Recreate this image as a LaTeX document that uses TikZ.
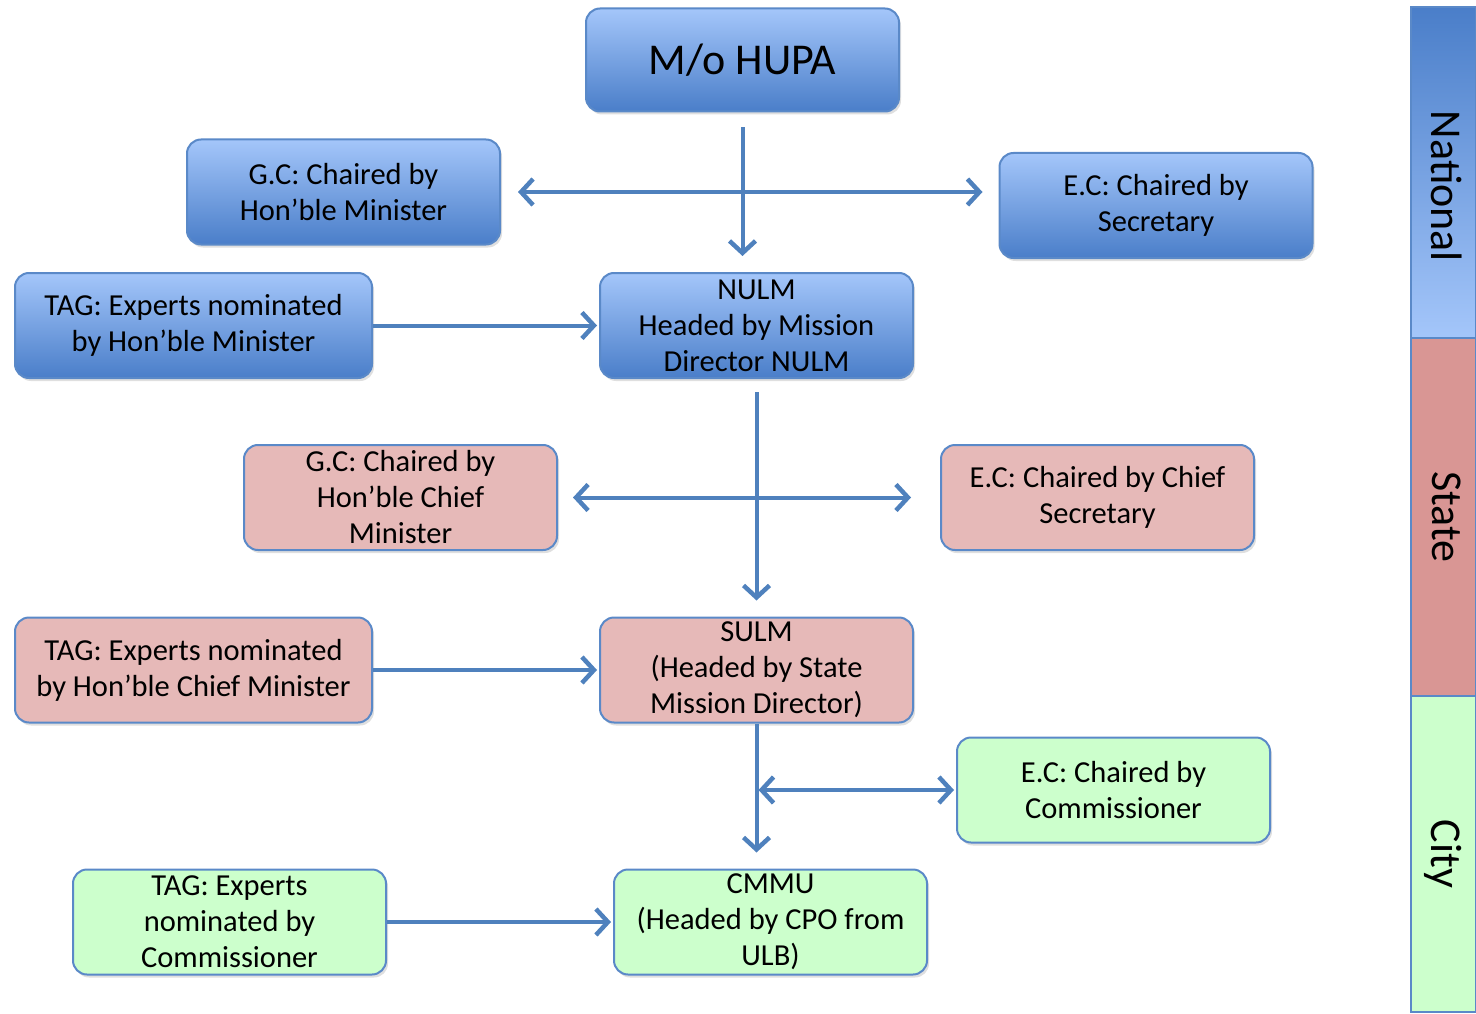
\documentclass[tikz,border=0pt]{standalone}
\usepackage{fontspec}
\setmainfont{Carlito}
\usetikzlibrary{positioning}
\usetikzlibrary{arrows.meta}
\usetikzlibrary{shadows}
\usepackage{xcolor}

\definecolor{linkblue}{HTML}{4F81BD}
\definecolor{edgeblue}{HTML}{5A89C8}
\definecolor{natlight}{HTML}{A4C6FA}
\definecolor{natdark}{HTML}{4A7EC9}
\definecolor{statefill}{HTML}{E6B9B8}
\definecolor{statebar}{HTML}{D99694}
\definecolor{cityfill}{HTML}{CCFFCC}

\tikzset{
  unit/.style={draw=edgeblue, line width=2pt, rounded corners=14pt, align=center,
    minimum width=313pt, minimum height=105pt, inner sep=0pt,
    font=\fontsize{30.5}{36}\selectfont,
    drop shadow={shadow xshift=2pt, shadow yshift=-3pt, opacity=0.25}},
  natbox/.style={unit, top color=natlight, bottom color=natdark},
  statebox/.style={unit, fill=statefill},
  citybox/.style={unit, fill=cityfill},
  band/.style={draw=edgeblue, line width=1.5pt, rotate=-90, minimum height=65pt,
    inner sep=0pt, font=\fontsize{44}{50}\selectfont},
  link/.style={draw=linkblue, line width=4pt,
    -{Straight Barb[length=12pt,width=26pt,line width=4.5pt]}},
  dlink/.style={link, {Straight Barb[length=12pt,width=26pt,line width=4.5pt]}-{Straight Barb[length=12pt,width=26pt,line width=4.5pt]}}
}

\begin{document}
\begin{tikzpicture}[x=1pt, y=-1pt]
  \useasboundingbox (0,0) rectangle (1476,1014);

  % national level
  \node[natbox, minimum height=103pt, font=\fontsize{44}{50}\selectfont] (hupa) at (742.5,60) {M/o HUPA};
  \node[natbox] (gcn) at (343.5,192) {G.C: Chaired by\\Hon’ble Minister};
  \node[natbox] (ecn) at (1156,205.5) {E.C: Chaired by\\Secretary};
  \node[natbox, minimum width=357pt] (tagn) at (193.5,325.5) {TAG: Experts nominated\\by Hon’ble Minister};
  \node[natbox] (nulm) at (756.5,325.5) {NULM\\Headed by Mission\\Director NULM};

  % state level
  \node[statebox] (gcs) at (400.5,497.5) {G.C: Chaired by\\Hon’ble Chief\\Minister};
  \node[statebox] (ecs) at (1097.5,497.5) {E.C: Chaired by Chief\\Secretary};
  \node[statebox, minimum width=357pt] (tags) at (193.5,670) {TAG: Experts nominated\\by Hon’ble Chief Minister};
  \node[statebox] (sulm) at (756.5,670) {SULM\\(Headed by State\\Mission Director)};

  % city level
  \node[citybox] (ecc) at (1113.5,790) {E.C: Chaired by\\Commissioner};
  \node[citybox] (tagc) at (229.5,922) {TAG: Experts\\nominated by\\Commissioner};
  \node[citybox] (cmmu) at (770.5,922) {CMMU\\(Headed by CPO from\\ULB)};

  % side bands
  \node[band, minimum width=331pt, top color=natdark, bottom color=natlight, shading angle=0] (national) at (1443.5,172.5) {\hspace*{28pt}\raisebox{6pt}{National}};
  \node[band, minimum width=358pt, fill=statebar] (state) at (1443.5,517) {\raisebox{6pt}{State}};
  \node[band, minimum width=316pt, fill=cityfill] (city) at (1443.5,854) {\raisebox{6pt}{City}};

  % connectors
  \draw[link, shorten <=15pt, shorten >=16pt] (hupa.south) -- (hupa.south |- nulm.north);
  \draw[dlink, shorten <=17pt, shorten >=16pt] (gcn.east) -- (gcn.east -| ecn.west);
  \draw[link, shorten >=2pt] (tagn) -- (nulm);

  \draw[link, shorten <=13pt, shorten >=16pt] (nulm.south) -- (sulm.north);
  \draw[dlink, shorten <=15pt, shorten >=29pt] (gcs) -- (ecs);
  \draw[link, shorten >=2pt] (tags) -- (sulm);

  \coordinate (cityx) at (sulm.south |- ecc.west);
  \draw[link, shorten >=16pt] (sulm.south) -- (sulm.south |- cmmu.north);
  \draw[dlink, shorten <=2pt, shorten >=2pt] (cityx) -- (ecc.west);
  \draw[link, shorten >=2pt] (tagc) -- (cmmu);
\end{tikzpicture}
\end{document}
